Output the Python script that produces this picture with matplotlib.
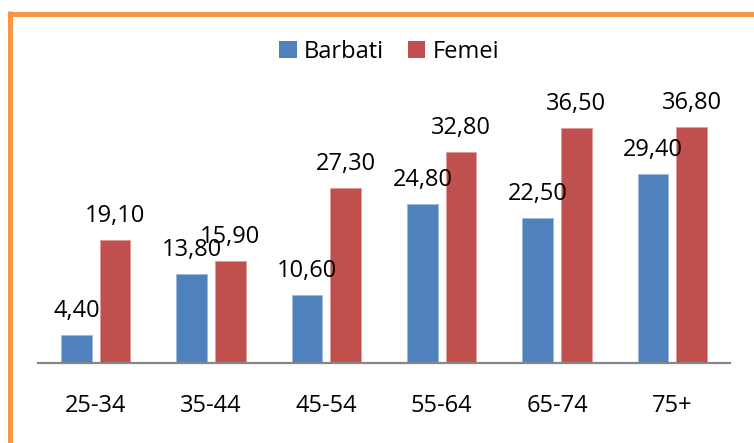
import matplotlib.pyplot as plt
import numpy as np
from matplotlib.lines import Line2D
from matplotlib.patches import Patch

# data
age_groups = ["25-34", "35-44", "45-54", "55-64", "65-74", "75+"]
barbati = [4.40, 13.80, 10.60, 24.80, 22.50, 29.40]
femei = [19.10, 15.90, 27.30, 32.80, 36.50, 36.80]
series_names = ["Barbati", "Femei"]

BLUE = "#4F81BD"
RED = "#C0504D"
ORANGE = "#F79646"
FONT = "Open Sans"

plt.rcParams["font.family"] = [FONT, "DejaVu Sans"]

fig = plt.figure(figsize=(7.54, 4.43), dpi=100)
ax = fig.add_axes([38 / 754, 80 / 443, 692 / 754, 257 / 443])

x = np.arange(len(age_groups))
width = 0.265
offset = 0.167

bars_b = ax.bar(x - offset, barbati, width, color=BLUE, edgecolor="#9DB8DC", linewidth=0.6)
bars_f = ax.bar(x + offset, femei, width, color=RED, edgecolor="#E09A98", linewidth=0.6)

for bars, vals in ((bars_b, barbati), (bars_f, femei)):
    for bar, v in zip(bars, vals):
        ax.annotate(f"{v:.2f}".replace(".", ","),
                    (bar.get_x() + bar.get_width() / 2, bar.get_height()),
                    xytext=(0, 18), textcoords="offset pixels",
                    ha="center", va="baseline", fontsize=17, color="black")

ax.set_xlim(-0.5, len(age_groups) - 0.5)
ax.set_ylim(0, 40)
ax.set_xticks(x)
ax.set_xticklabels(age_groups, fontsize=17)
ax.tick_params(axis="x", length=0, pad=22)
ax.set_yticks([])
for side in ("top", "right", "left"):
    ax.spines[side].set_visible(False)
ax.spines["bottom"].set_color("#868686")
ax.spines["bottom"].set_linewidth(1.6)

handles = [Patch(facecolor=BLUE, label=series_names[0]),
           Patch(facecolor=RED, label=series_names[1])]
fig.legend(handles=handles, loc="center", bbox_to_anchor=(0.516, 0.883), ncol=2,
           frameon=False, fontsize=17, handlelength=0.75, handleheight=0.75,
           handletextpad=0.3, columnspacing=1.0)

# orange frame (top and left edges visible in the crop)
fig.add_artist(Line2D([10 / 754, 1.0], [1 - 13.5 / 443, 1 - 13.5 / 443],
                      transform=fig.transFigure, color=ORANGE, linewidth=3.6,
                      solid_capstyle="butt"))
fig.add_artist(Line2D([10 / 754, 10 / 754], [0.0, 1 - 11 / 443],
                      transform=fig.transFigure, color=ORANGE, linewidth=3.6,
                      solid_capstyle="butt"))

fig.savefig("out.png", dpi=100)
